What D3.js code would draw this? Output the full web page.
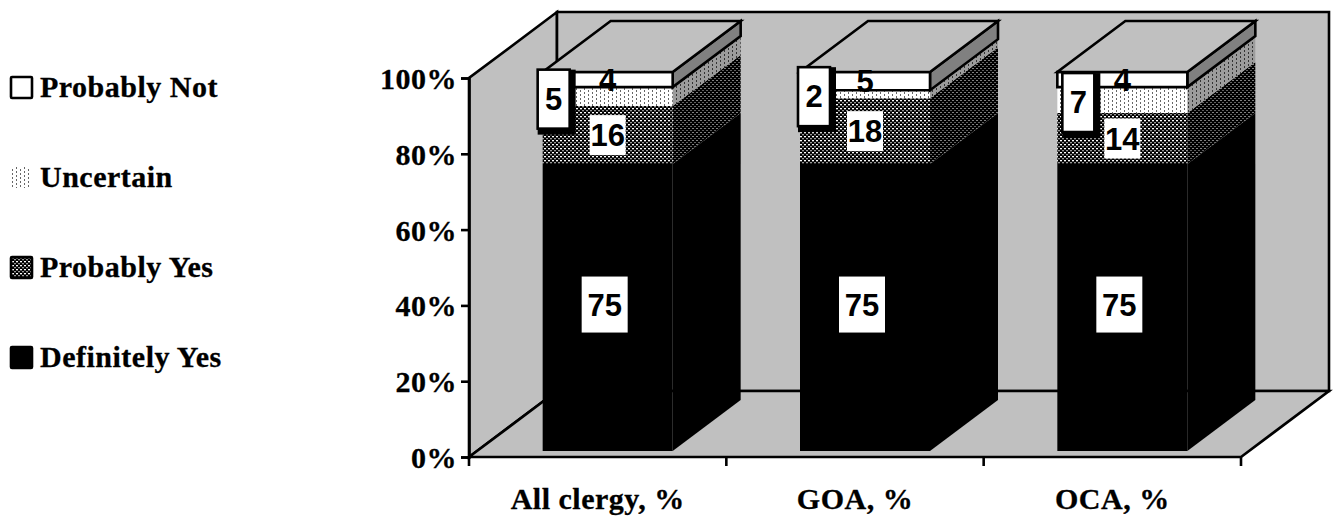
<!DOCTYPE html>
<html>
<head>
<meta charset="utf-8">
<script src="https://cdnjs.cloudflare.com/ajax/libs/d3/7.8.5/d3.min.js"></script>
<style>
  html, body { margin: 0; padding: 0; background: #fff; overflow: hidden; }
  .serif { font-family: "Liberation Serif", serif; font-weight: bold; font-size: 30px; letter-spacing: 0.5px; fill: #000; stroke: #000; stroke-width: 0.3px; }
  .val { font-family: "Liberation Sans", Arial, sans-serif; font-weight: bold; font-size: 31px; fill: #000; text-anchor: middle; }
</style>
</head>
<body>
<svg id="chart" width="1336" height="519"></svg>
<script>
const categories = ["All clergy, %", "GOA, %", "OCA, %"];
const yTicks = [0, 20, 40, 60, 80, 100];

// bar heights (they don't quite agree with the printed labels)
const definitelyYes = [75.7, 75.7, 75.7];
const probablyYes = [15.3, 17.4, 13.5];
const uncertain = [5, 2.1, 6.8];
const probablyNot = [4, 4.8, 4];

// printed labels
const definitelyYesLabels = ["75", "75", "75"];
const probablyYesLabels = ["16", "18", "14"];
const uncertainLabels = ["5", "2", "7"];
const probablyNotLabels = ["4", "5", "4"];

const legendNames = ["Probably Not", "Uncertain", "Probably Yes", "Definitely Yes"];

const svg = d3.select("#chart");

// 3d box setup
const floorDepth = { x: 88, y: -66 };
const barDepth = { x: 68, y: -51 };
const barInset = { x: 10, y: -6 };
const barWidth = 130;
const x0 = 469, x1 = 1241;
const lineW = 2.6;

const y = d3.scaleLinear().domain([0, 100]).range([457, 78]);
const x = d3.scaleBand().domain(categories).range([x0, x1]);

const defs = svg.append("defs");

function addPattern(id, size, bg, pixels) {
  const p = defs.append("pattern")
    .attr("id", id)
    .attr("patternUnits", "userSpaceOnUse")
    .attr("width", size)
    .attr("height", size);
  p.append("rect").attr("width", size).attr("height", size).attr("fill", bg);
  pixels.forEach(d => {
    p.append("rect")
      .attr("x", d[0]).attr("y", d[1])
      .attr("width", d[2]).attr("height", d[3])
      .attr("fill", d[4]);
  });
}

addPattern("hatchFront", 4, "#000", [[0, 0, 2, 1, "#fff"], [2, 2, 2, 1, "#999"], [0, 1, 2, 1, "#555"], [2, 3, 2, 1, "#333"]]);
addPattern("hatchSide", 4, "#000", [[0, 0, 2, 1, "#808080"], [2, 2, 2, 1, "#606060"]]);
addPattern("dotFront", 8, "#fff", [[0, 0, 1, 2, "#666"], [0, 4, 1, 2, "#666"], [4, 2, 1, 2, "#666"], [4, 6, 1, 2, "#666"]]);
addPattern("dotSide", 8, "#9c9c9c", [[0, 0, 1, 2, "#333"], [0, 4, 1, 2, "#333"], [4, 2, 1, 2, "#333"], [4, 6, 1, 2, "#333"]]);

const line = d3.line();

function poly(g, pts, fill, stroke) {
  return g.append("path")
    .attr("d", line(pts) + "Z")
    .attr("fill", fill)
    .attr("stroke", stroke || "none")
    .attr("stroke-width", stroke ? lineW : 0)
    .attr("stroke-linejoin", "miter");
}

// walls and floor
const walls = svg.append("g");
const yTop = y(100), yBase = y(0);
const fx = floorDepth.x, fy = floorDepth.y;
poly(walls, [[x0, yBase], [x0, yTop], [x0 + fx, yTop + fy], [x0 + fx, yBase + fy]], "#c0c0c0", "#000");
poly(walls, [[x0 + fx, yBase + fy], [x0 + fx, yTop + fy], [x1 + fx, yTop + fy], [x1 + fx, yBase + fy]], "#c0c0c0", "#000");
poly(walls, [[x0, yBase], [x0 + fx, yBase + fy], [x1 + fx, yBase + fy], [x1, yBase]], "#c0c0c0", "#000");

// axes
const yAxis = d3.axisLeft(y).tickValues(yTicks).tickSize(8).tickPadding(4).tickFormat(d => d + "%");
const yG = svg.append("g").attr("transform", `translate(${x0},0)`).call(yAxis);
yG.select(".domain").attr("stroke-width", lineW).attr("stroke", "#000");
yG.selectAll(".tick line").attr("stroke-width", lineW).attr("stroke", "#000");
yG.selectAll(".tick text").attr("class", "serif").attr("dy", "10.5px");
yG.attr("font-family", null).attr("font-size", null);

// category ticks sit between the bands, so they are drawn by hand
const xTickPos = x.domain().map(c => x(c)).concat([x1]);
svg.append("g").selectAll("line").data(xTickPos).join("line")
  .attr("x1", d => d).attr("x2", d => d)
  .attr("y1", yBase).attr("y2", yBase + 9)
  .attr("stroke", "#000").attr("stroke-width", lineW);

svg.append("g").selectAll("text").data(categories).join("text")
  .attr("class", "serif")
  .attr("text-anchor", "middle")
  .attr("x", d => x(d) + x.bandwidth() / 2)
  .attr("y", 509)
  .text(d => d);

// bars
const layers = [
  { values: definitelyYes, front: "#000", side: "#000" },
  { values: probablyYes, front: "url(#hatchFront)", side: "url(#hatchSide)" },
  { values: uncertain, front: "url(#dotFront)", side: "url(#dotSide)" },
  { values: probablyNot, front: "#fff", side: "#808080", stroke: "#000" }
];

const barY = v => y(v) + barInset.y;
const bx = barDepth.x, by = barDepth.y;

categories.forEach((cat, i) => {
  const g = svg.append("g");
  const left = x(cat) + x.bandwidth() / 2 + barInset.x - barWidth / 2;
  const right = left + barWidth;
  let total = 0;
  layers.forEach(layer => {
    const a = barY(total), b = barY(total + layer.values[i]);
    total += layer.values[i];
    poly(g, [[right, a], [right + bx, a + by], [right + bx, b + by], [right, b]], layer.side, layer.stroke);
    poly(g, [[left, a], [right, a], [right, b], [left, b]], layer.front, layer.stroke);
  });
  const t = barY(total);
  poly(g, [[left, t], [right, t], [right + bx, t + by], [left + bx, t + by]], "#c0c0c0", "#000");
});

// value labels
function valueLabel(cx, cy, txt, boxW, boxH) {
  const g = svg.append("g");
  g.append("rect").attr("x", cx - boxW / 2).attr("y", cy - boxH / 2).attr("width", boxW).attr("height", boxH).attr("fill", "#fff");
  g.append("text").attr("class", "val").attr("x", cx).attr("y", cy + 11).text(txt);
}

function calloutLabel(cx, cy, txt) {
  const g = svg.append("g");
  g.append("rect").attr("x", cx - 16).attr("y", cy - 29).attr("width", 38).attr("height", 65).attr("fill", "#000");
  g.append("rect").attr("x", cx - 16).attr("y", cy - 29).attr("width", 32).attr("height", 59)
    .attr("fill", "#fff").attr("stroke", "#000").attr("stroke-width", lineW);
  g.append("text").attr("class", "val").attr("x", cx).attr("y", cy + 11).text(txt);
}

const calloutShift = [-54, -51, -44];
categories.forEach((cat, i) => {
  const cx = x(cat) + x.bandwidth() / 2 + barInset.x;
  const a = definitelyYes[i], b = a + probablyYes[i], c = b + uncertain[i], d = c + probablyNot[i];
  valueLabel(cx - 3, barY(a * 0.5) - 3, definitelyYesLabels[i], 46, 56);
  valueLabel(cx, barY((a + b) / 2), probablyYesLabels[i], 36, 40);
  calloutLabel(cx + calloutShift[i], barY((b + c) / 2) + 2, uncertainLabels[i]);
  svg.append("text").attr("class", "val").attr("x", cx).attr("y", barY((c + d) / 2) + 11).text(probablyNotLabels[i]);
});

// legend
const legendFill = ["#fff", "url(#dotFront)", "url(#hatchFront)", "#000"];
const legendStroke = ["#000", "none", "#000", "#000"];
const legend = svg.append("g").selectAll("g").data(legendNames).join("g")
  .attr("transform", (d, i) => `translate(0,${97 + i * 90})`);
legend.append("rect")
  .attr("x", 11).attr("y", -20).attr("width", 21).attr("height", 21)
  .attr("rx", 1)
  .attr("fill", (d, i) => legendFill[i])
  .attr("stroke", (d, i) => legendStroke[i])
  .attr("stroke-width", lineW);
legend.append("text").attr("class", "serif").attr("x", 40).attr("y", 0).text(d => d);
</script>
</body>
</html>
